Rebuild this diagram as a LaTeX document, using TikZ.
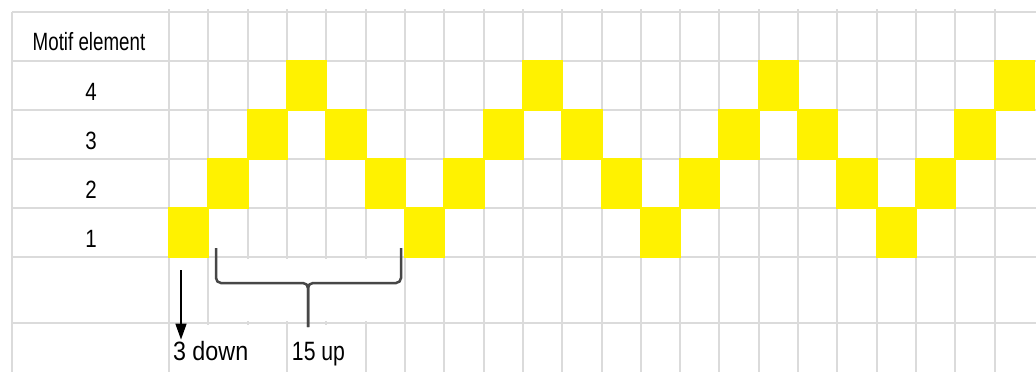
\documentclass[tikz,border=0pt]{standalone}
\usepackage{fontspec}
\setmainfont{Liberation Sans}
\usetikzlibrary{arrows.meta}

\begin{document}
\begin{tikzpicture}[
  x=1pt, y=-1pt,
  >={Triangle[length=16pt,width=11pt]},
  gridline/.style={draw=black!14, line width=2pt},
  hit/.style={fill=yellow},
  lbl/.style={font=\fontsize{25}{29}\selectfont, inner sep=1pt, anchor=base},
  note/.style={font=\fontsize{26.5}{31}\selectfont, inner sep=1pt, anchor=base west},
  brace/.style={draw=black!72, line width=2.5pt, rounded corners=5pt},
]
  \useasboundingbox (0,0) rectangle (1036,372);

  % Grid
  \foreach \y in {12,61,110,159,208,257,323}
    \draw[gridline] (12,\y) -- (1036,\y);
  \draw[gridline] (12,12) -- (12,372);
  \foreach \k in {0,...,21}
    \draw[gridline] ({169+39.32*\k},9) -- ({169+39.32*\k},372);

  % Motif element per column
  \foreach \v [count=\c from 0] in {1,2,3,4,3,2,1,2,3,4,3,2,1,2,3,4,3,2,1,2,3,4}
    \fill[hit] ({169+39.32*\c-1},{257-49*\v-1}) rectangle ({169+39.32*(\c+1)+1},{257-49*(\v-1)+1});

  % Row labels
  \node[lbl, xscale=0.75] (head) at (89,50) {Motif element};
  \foreach \v/\yb in {4/100,3/149,2/198,1/247}
    \node[lbl, xscale=0.82] (el\v) at (91,\yb) {\v};

  % Overflow labels
  \fill[white] (171,325) rectangle (285,373);
  \fill[white] (289,325) rectangle (364,373);
  \node[note, xscale=0.88] (down) at (172,360) {3 down};
  \node[note, xscale=0.8] (up) at (291,360) {15 up};

  % Arrow
  \coordinate (drop) at (181,270);
  \draw[->, line width=1.6pt] (drop) -- (drop |- down.north);

  % Brace
  \fill[white] (211,259) rectangle (403,321);
  \coordinate (bl) at (216,248);
  \coordinate (br) at (401,248);
  \coordinate (mid) at (308,283);
  \coordinate (stem) at (308,327);
  \draw[brace] (bl) |- (mid) -- (stem);
  \draw[brace] (br) |- (mid) -- (stem);
\end{tikzpicture}
\end{document}
